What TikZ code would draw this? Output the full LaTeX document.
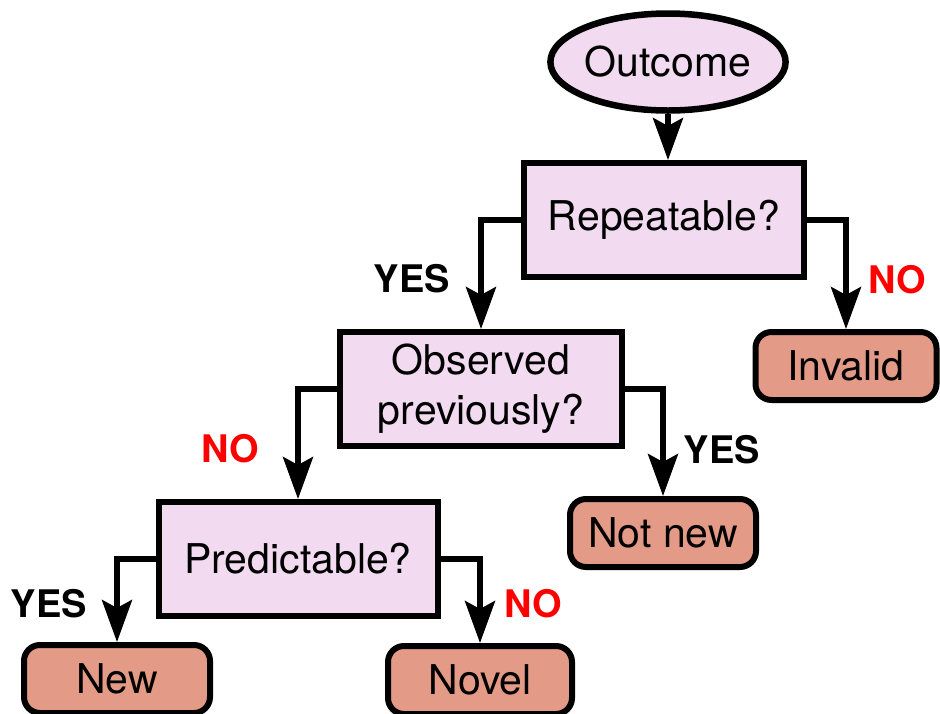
\documentclass[tikz,border=0pt]{standalone}
\usepackage{fontspec}
\setmainfont{TeX Gyre Heros}
\usetikzlibrary{shapes.geometric,arrows.meta}
\definecolor{qfill}{HTML}{F2DAF0}
\definecolor{rfill}{HTML}{E39A86}
\definecolor{nored}{HTML}{FF0000}
\tikzset{
  boxtext/.style={font=\fontsize{41}{50}\selectfont, text=black, align=center},
  qbox/.style={boxtext, draw=black, line width=6pt, fill=qfill, rectangle, inner sep=0pt},
  rbox/.style={boxtext, draw=black, line width=6pt, fill=rfill, rectangle, rounded corners=16pt, inner sep=0pt, minimum width=181pt, minimum height=68pt},
  startnode/.style={boxtext, draw=black, line width=6.5pt, fill=qfill, ellipse, inner sep=0pt, minimum width=234pt, minimum height=97pt},
  flow/.style={draw=black, line width=5.5pt, -{Stealth[length=42pt, width=30pt, inset=8pt]}},
  yeslab/.style={font=\bfseries\fontsize{38}{40}\selectfont, text=black},
  nolab/.style={font=\bfseries\fontsize{38}{40}\selectfont, text=nored},
}
\begin{document}
\begin{tikzpicture}[x=1pt, y=-1pt]
\useasboundingbox (0,0) rectangle (940,713);
\node[startnode] (outcome) at (668,62) {Outcome};
\node[qbox, minimum width=280pt, minimum height=114pt] (rep) at (664,220) {Repeatable?};
\node[qbox, minimum width=282pt, minimum height=114pt] (obs) at (481,389) {Observed\\previously?};
\node[qbox, minimum width=279pt, minimum height=114pt] (pred) at (298,559) {Predictable?};
\node[rbox] (invalid) at (846,366) {Invalid};
\node[rbox, minimum width=186pt] (notnew) at (663,533) {Not new};
\node[rbox, minimum width=186pt] (new) at (117,679) {New};
\node[rbox, minimum width=184pt] (novel) at (480,680) {Novel};

\draw[flow] (outcome.south) -- (outcome.south |- rep.north);
\draw[flow] (rep.west) -| (obs.north);
\draw[flow] (rep.east) -| (invalid.north);
\draw[flow] (obs.west) -| (pred.north);
\draw[flow] (obs.east) -| (notnew.north);
\draw[flow] (pred.west) -| (new.north);
\draw[flow] (pred.east) -| (novel.north);

\node[yeslab] (y1) at (412,279) {YES};
\node[nolab] (n1) at (897,280) {NO};
\node[nolab] (n2) at (230,449) {NO};
\node[yeslab] (y2) at (722,450) {YES};
\node[yeslab] (y3) at (49,604) {YES};
\node[nolab] (n3) at (533,604) {NO};
\end{tikzpicture}
\end{document}
